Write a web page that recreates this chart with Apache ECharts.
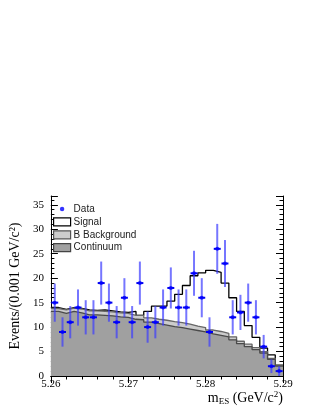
<!DOCTYPE html>
<html>
<head>
<meta charset="utf-8">
<script src="https://cdn.jsdelivr.net/npm/echarts@6/dist/echarts.min.js"></script>
<style>
  html, body { margin: 0; padding: 0; background: #fff; }
  #chart { width: 322px; height: 416px; }
</style>
</head>
<body>
<div id="chart"></div>
<script>
// bins of 0.001 GeV/c2 from 5.26 to 5.29
const binLo = 5.26;
const binW = 0.001;

// observed events per bin and their errors
const dataCounts = [15, 9, 11, 14, 12, 12, 19, 15, 11, 16, 11, 19, 10, 11, 14, 18, 14, 14, 21, 16, 9, 26, 23, 12, 13, 15, 12, 6, 2, 1];
const dataErrs = [3.9, 3.0, 3.3, 3.7, 3.5, 3.5, 4.4, 3.9, 3.3, 4.0, 3.3, 4.4, 3.2, 3.3, 3.7, 4.2, 3.7, 3.7, 4.6, 4.0, 3.0, 5.1, 4.8, 3.5, 3.6, 3.9, 3.5, 2.4, 1.4, 1.0];

// stacked fit components (top edge of each layer)
const continuum = [13.2, 12.8, 13.2, 12.9, 12.5, 12.5, 12.4, 12.3, 12.1, 12.0, 11.6, 11.5, 11.0, 10.7, 10.4, 10.1, 9.9, 9.6, 9.3, 9.0, 8.6, 8.3, 8.0, 7.4, 6.6, 6.0, 5.4, 4.7, 3.4, 2.0];
const withBBkg = [13.8, 13.5, 13.9, 13.7, 13.3, 13.3, 13.2, 13.1, 12.9, 12.8, 12.4, 12.4, 11.9, 11.6, 11.4, 11.1, 10.9, 10.6, 10.2, 9.9, 9.4, 9.1, 8.7, 8.0, 7.1, 6.5, 5.8, 5.0, 3.6, 2.1];
const withSignal = [14.0, 13.6, 14.0, 13.8, 13.5, 13.4, 13.5, 13.3, 13.1, 13.0, 13.2, 12.4, 13.2, 14.3, 14.3, 15.3, 16.7, 18.5, 20.5, 21.1, 21.6, 21.2, 19.0, 16.0, 13.2, 10.3, 7.9, 5.7, 4.3, 2.2];

const serif = "Liberation Serif";
const sans = "Liberation Sans";

// small dot centred in a 17x8 box (the two empty segments fix the box size)
const dotIcon = "path://M0,0L0,0M17,8L17,8M10.7,4A2.2,2.2,0,1,1,6.3,4A2.2,2.2,0,1,1,10.7,4Z";

function stepData(vals) {
  const pts = vals.map((v, i) => [binLo + i * binW, v]);
  pts.push([binLo + vals.length * binW, vals[vals.length - 1]]);
  return pts;
}

const points = dataCounts.map((v, i) => [binLo + (i + 0.5) * binW, v, dataErrs[i]]);

const myChart = echarts.init(document.getElementById("chart"), null, { renderer: "canvas" });

const yBase = { type: "value", min: 0, max: 36.8, splitLine: { show: false } };

const option = {
  backgroundColor: "#fff",
  animation: false,
  grid: { left: 41, right: 39, top: 196, bottom: 40 },
  legend: {
    orient: "vertical",
    left: 48,
    top: 199,
    itemWidth: 17,
    itemHeight: 8,
    itemGap: 2.9,
    textStyle: { fontFamily: sans, fontSize: 10, color: "#222", padding: [0, 0, 0, -2] },
    data: [
      { name: "Data", icon: dotIcon, itemStyle: { color: "#0000ff", borderWidth: 0 } },
      { name: "Signal", icon: "rect", itemStyle: { color: "#fff", borderColor: "#000", borderWidth: 1.2 } },
      { name: "B Background", icon: "rect", itemStyle: { color: "#cccccc", borderColor: "#555", borderWidth: 1.2 } },
      { name: "Continuum", icon: "rect", itemStyle: { color: "#a0a0a0", borderColor: "#444", borderWidth: 1.2 } }
    ]
  },
  xAxis: [
    {
      type: "value",
      position: "bottom",
      min: 5.26,
      max: 5.29,
      interval: 0.01,
      axisLine: { lineStyle: { color: "#000", width: 1 } },
      axisTick: { inside: true, length: 7, lineStyle: { color: "#000" } },
      minorTick: { show: true, splitNumber: 5, length: 3.5, lineStyle: { color: "#000" } },
      splitLine: { show: false },
      axisLabel: {
        margin: 3,
        fontFamily: serif,
        fontSize: 11,
        color: "#000",
        formatter: v => v.toFixed(2)
      },
      name: "{m|m}{s|ES}{m| (GeV/c}{p|2}{m|)}",
      nameLocation: "end",
      nameGap: 0,
      nameTextStyle: {
        align: "right",
        verticalAlign: "top",
        padding: [14, 0, 0, 0],
        rich: {
          m: { fontFamily: serif, fontSize: 14, color: "#000" },
          s: { fontFamily: serif, fontSize: 9, color: "#000", padding: [6, 0, 0, 0] },
          p: { fontFamily: serif, fontSize: 9, color: "#000", padding: [0, 0, 8, 0] }
        }
      }
    },
    {
      type: "value",
      position: "top",
      min: 5.26,
      max: 5.29,
      interval: 0.01,
      axisLine: { show: true, lineStyle: { color: "#000", width: 1 } },
      axisTick: { inside: true, length: 7, lineStyle: { color: "#000" } },
      minorTick: { show: true, splitNumber: 5, length: 3.5, lineStyle: { color: "#000" } },
      splitLine: { show: false },
      axisLabel: { show: false }
    }
  ],
  yAxis: [
    Object.assign({}, yBase, {
      position: "left",
      interval: 5,
      axisLine: { show: true, lineStyle: { color: "#000", width: 1 } },
      axisTick: { show: true, inside: true, length: 7, lineStyle: { color: "#000" } },
      axisLabel: {
        margin: 7,
        fontFamily: serif,
        fontSize: 11,
        color: "#000",
        formatter: v => (v % 5 === 0 ? String(v) : "")
      },
      name: "Events/(0.001 GeV/c²)",
      nameLocation: "middle",
      nameGap: 21,
      nameTextStyle: { fontFamily: serif, fontSize: 14, color: "#000" }
    }),
    Object.assign({}, yBase, {
      position: "left",
      interval: 1,
      axisLine: { show: false },
      axisTick: { show: true, inside: true, length: 3.5, lineStyle: { color: "#000" } },
      axisLabel: { show: false }
    }),
    Object.assign({}, yBase, {
      position: "right",
      interval: 5,
      axisLine: { show: true, lineStyle: { color: "#000", width: 1 } },
      axisTick: { show: true, inside: true, length: 7, lineStyle: { color: "#000" } },
      axisLabel: { show: false }
    }),
    Object.assign({}, yBase, {
      position: "right",
      interval: 1,
      axisLine: { show: false },
      axisTick: { show: true, inside: true, length: 3.5, lineStyle: { color: "#000" } },
      axisLabel: { show: false }
    })
  ],
  series: [
    {
      name: "Signal",
      type: "line",
      step: "end",
      data: stepData(withSignal),
      symbol: "none",
      lineStyle: { color: "#000", width: 1.3 },
      areaStyle: { color: "#fff", opacity: 1 },
      itemStyle: { color: "#fff" },
      z: 1
    },
    {
      name: "B Background",
      type: "line",
      step: "end",
      data: stepData(withBBkg),
      symbol: "none",
      lineStyle: { color: "#666", width: 1.3 },
      areaStyle: { color: "#cccccc", opacity: 1 },
      itemStyle: { color: "#cccccc" },
      z: 2
    },
    {
      name: "Continuum",
      type: "line",
      step: "end",
      data: stepData(continuum),
      symbol: "none",
      lineStyle: { color: "#4a4a4a", width: 1.3 },
      areaStyle: { color: "#a0a0a0", opacity: 1 },
      itemStyle: { color: "#a0a0a0" },
      z: 3
    },
    {
      name: "DataErr",
      type: "custom",
      data: points,
      z: 4,
      renderItem: (params, api) => {
        const x = api.value(0);
        const y = api.value(1);
        const e = api.value(2);
        const c = api.coord([x, y]);
        const top = api.coord([x, y + e]);
        const bot = api.coord([x, Math.max(0, y - e)]);
        const l = api.coord([x - binW * 0.45, y]);
        const r = api.coord([x + binW * 0.45, y]);
        return {
          type: "group",
          children: [
            { type: "line", shape: { x1: c[0], y1: top[1], x2: c[0], y2: bot[1] }, style: { stroke: "rgba(60,60,255,0.7)", lineWidth: 2 } },
            { type: "line", shape: { x1: l[0], y1: c[1], x2: r[0], y2: c[1] }, style: { stroke: "#0000f0", lineWidth: 2 } }
          ]
        };
      }
    },
    {
      name: "Data",
      type: "scatter",
      data: points.map(p => [p[0], p[1]]),
      symbol: "circle",
      symbolSize: 4,
      itemStyle: { color: "#0000ff" },
      z: 5
    }
  ]
};

myChart.setOption(option);
</script>
</body>
</html>
